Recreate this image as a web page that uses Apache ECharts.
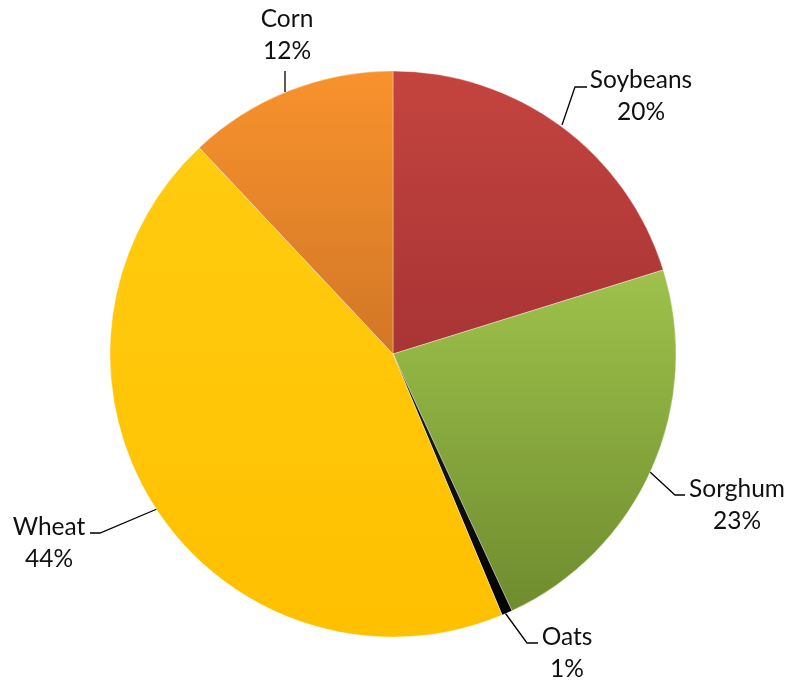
<!DOCTYPE html>
<html>
<head>
<meta charset="utf-8">
<script src="https://cdn.jsdelivr.net/npm/echarts@6/dist/echarts.min.js"></script>
<style>html,body{margin:0;padding:0;background:#fff}#c{width:793px;height:683px}</style>
</head>
<body>
<div id="c"></div>
<script>
var categories = ['Soybeans', 'Sorghum', 'Oats', 'Wheat', 'Corn'];
var values = [20.2, 22.9, 0.6, 44.3, 12.0];

var colorStops = [
  ['#C4443F', '#A83434'],
  ['#9EC24C', '#6F8C2E'],
  ['#222222', '#000000'],
  ['#FFCC10', '#FFC000'],
  ['#F8922C', '#D27727']
];
// label anchor (text center) and leader line bends
var labelPos = [
  {x: 641, y: 96, line: [[562, 125], [575, 87], [587, 87]]},
  {x: 737, y: 505, line: [[650, 472], [675, 495], [685, 495]]},
  {x: 567, y: 653, line: [[503, 610], [527, 643], [538, 643]]},
  {x: 49, y: 543, line: [[157, 509], [100, 533], [90, 533]]},
  {x: 287, y: 35, line: [[285, 92], [285, 71]]}
];

var data = categories.map(function (c, i) {
  return {
    name: c,
    value: values[i],
    itemStyle: {
      color: {
        type: 'linear', x: 0, y: 0, x2: 0, y2: 1,
        colorStops: [{offset: 0, color: colorStops[i][0]}, {offset: 1, color: colorStops[i][1]}]
      }
    }
  };
});

var chart = echarts.init(document.getElementById('c'), null, {renderer: 'canvas'});
chart.setOption({
  animation: false,
  series: [{
    type: 'pie',
    center: [393, 354],
    radius: [0, 283],
    startAngle: 90,
    clockwise: true,
    percentPrecision: 0,
    data: data,
    itemStyle: {borderColor: 'rgba(255,255,255,0.35)', borderWidth: 1},
    label: {
      show: true,
      formatter: '{b}\n{d}%',
      fontFamily: 'Lato, "Open Sans", sans-serif',
      fontSize: 24.5,
      lineHeight: 32,
      color: '#111',
      align: 'center',
      overflow: 'none',
      width: 160
    },
    labelLine: {show: true, lineStyle: {color: '#000', width: 1.3}},
    labelLayout: function (p) {
      var lp = labelPos[p.dataIndex];
      return {
        x: lp.x,
        y: lp.y,
        align: 'center',
        verticalAlign: 'middle',
        labelLinePoints: lp.line.length === 3 ? lp.line : [lp.line[0], lp.line[1], lp.line[1]]
      };
    }
  }]
});
</script>
</body>
</html>
